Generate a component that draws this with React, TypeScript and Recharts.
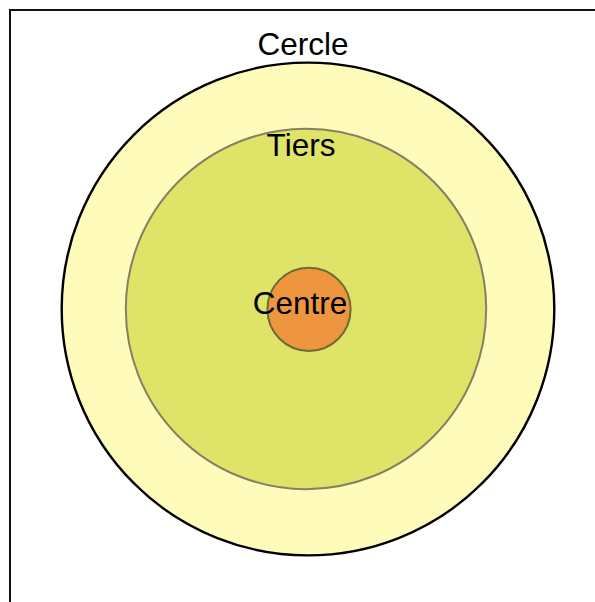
import { ScatterChart, Scatter, XAxis, YAxis, ZAxis, Cell, LabelList } from 'recharts';

// nested circles, coordinates in chart units (1 unit = 1px, origin top-left of plot)
const names = ['Cercle', 'Tiers', 'Centre'];
const centerX = [297, 295, 298];
const centerY = [298, 298, 298.3];
const radii = [246.3, 180.2, 41.6];

const fills = ['#FFFBBB', '#DFE367', '#EE9540'];
const strokes = ['#000000', '#858060', '#6E6A38'];
const strokeWidths = [2.4, 2, 2];
// label offsets relative to circle (dx from centre, dy baseline from centre)
const labelDx = [-5, -5, -9];
const labelDy = [-254, -153, 5];

const W = 585;
const H = 592;

const data = names.map((name, i) => ({
  name,
  x: centerX[i],
  y: centerY[i],
  area: Math.PI * radii[i] * radii[i],
}));

const maxArea = Math.PI * 260 * 260;

const renderLabel = (props: any) => {
  const { x, y, width, height, value, index } = props;
  const cx = x + width / 2;
  const cy = y + height / 2;
  return (
    <text
      x={cx + labelDx[index]}
      y={cy + labelDy[index]}
      textAnchor="middle"
      fontFamily="'Liberation Sans', Arial, sans-serif"
      fontSize={31.5}
      fill="#000"
    >
      {value}
    </text>
  );
};

export default function App() {
  return (
    <div
      style={{
        position: 'absolute',
        left: 9,
        top: 9,
        width: W,
        height: H,
        borderTop: '2px solid #111',
        borderLeft: '2px solid #111',
      }}
    >
      <ScatterChart width={W} height={H} margin={{ top: 0, right: 0, bottom: 0, left: 0 }}>
        <XAxis type="number" dataKey="x" domain={[0, W]} hide />
        <YAxis type="number" dataKey="y" domain={[0, H]} reversed hide />
        <ZAxis type="number" dataKey="area" domain={[0, maxArea]} range={[0, maxArea]} />
        <Scatter data={data} shape="circle" isAnimationActive={false}>
          {data.map((d, i) => (
            <Cell key={d.name} fill={fills[i]} stroke={strokes[i]} strokeWidth={strokeWidths[i]} />
          ))}
          <LabelList dataKey="name" content={renderLabel} />
        </Scatter>
      </ScatterChart>
    </div>
  );
}
